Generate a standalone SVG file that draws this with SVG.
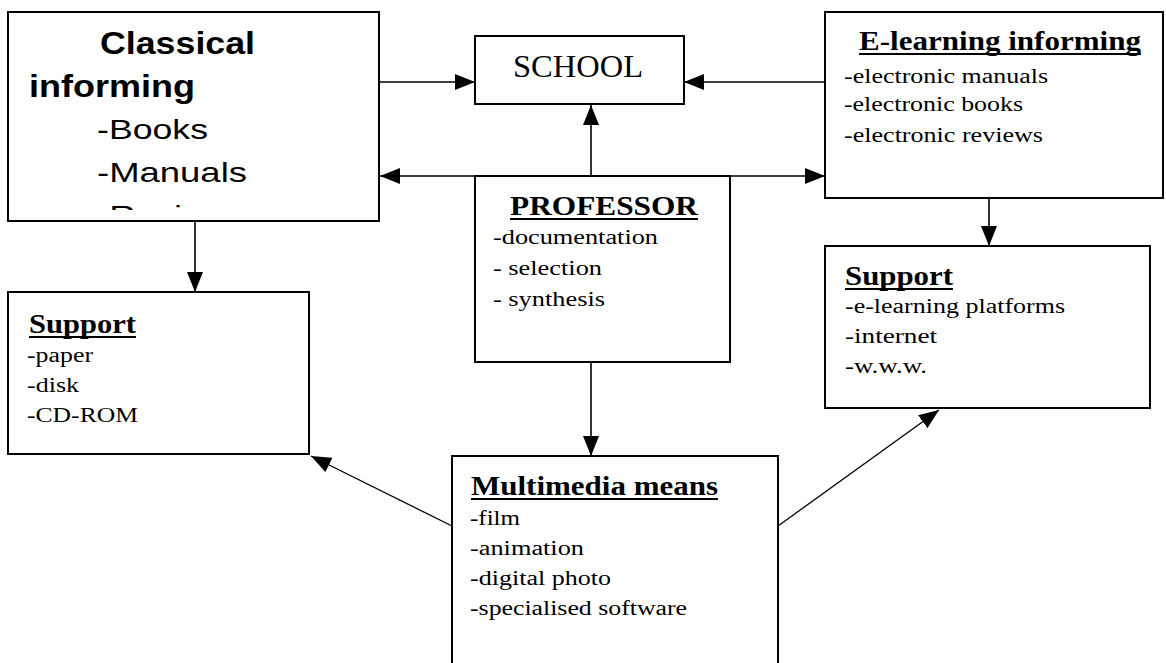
<svg xmlns="http://www.w3.org/2000/svg" width="1166" height="663" viewBox="0 0 1166 663">
<style>
.box{fill:#fff;stroke:#000;stroke-width:2}
.sans{font-family:"Liberation Sans",Arial,sans-serif;fill:#000}
.serif{font-family:"Liberation Serif","Times New Roman",serif;fill:#000}
.title{font-weight:bold;font-size:27px}
.item{font-size:20px}
.ul{stroke:#000;stroke-width:2}
.con{stroke:#000;stroke-width:1.6;fill:none}
.diag{stroke:#000;stroke-width:1.3;fill:none}
</style>
<defs>
<marker id="ah" markerUnits="userSpaceOnUse" markerWidth="20" markerHeight="16" refX="20" refY="8" orient="auto">
<path d="M0,0 L20,8 L0,16 z" fill="#000"/>
</marker>
<clipPath id="clipClassical"><rect x="9" y="13" width="369" height="197"/></clipPath>
</defs>
<rect width="1166" height="663" fill="#fff"/>

<g id="connectors">
<line class="con" x1="379" y1="82" x2="475" y2="82" marker-end="url(#ah)"/>
<line class="con" x1="825" y1="82" x2="684" y2="82" marker-end="url(#ah)"/>
<line class="con" x1="591" y1="176" x2="591" y2="105" marker-end="url(#ah)"/>
<line class="con" x1="591" y1="176" x2="380" y2="176" marker-end="url(#ah)"/>
<line class="con" x1="591" y1="176" x2="825" y2="176" marker-end="url(#ah)"/>
<line class="con" x1="195" y1="221" x2="195" y2="292" marker-end="url(#ah)"/>
<line class="con" x1="989" y1="198" x2="989" y2="246" marker-end="url(#ah)"/>
<line class="con" x1="591" y1="362" x2="591" y2="456" marker-end="url(#ah)"/>
<line class="diag" x1="452" y1="526" x2="311" y2="456" marker-end="url(#ah)"/>
<line class="diag" x1="778" y1="526" x2="939" y2="410" marker-end="url(#ah)"/>
</g>

<g id="classical">
<rect class="box" x="8" y="12" width="371" height="209"/>
<g clip-path="url(#clipClassical)">
<text class="sans" font-weight="bold" font-size="32" x="100" y="54" textLength="155" lengthAdjust="spacingAndGlyphs">Classical</text>
<text class="sans" font-weight="bold" font-size="32" x="29" y="97" textLength="166" lengthAdjust="spacingAndGlyphs">informing</text>
<text class="sans" font-size="28" x="97" y="139" textLength="111" lengthAdjust="spacingAndGlyphs">-Books</text>
<text class="sans" font-size="28" x="97" y="182" textLength="150" lengthAdjust="spacingAndGlyphs">-Manuals</text>
<text class="sans" font-size="28" x="97" y="225" textLength="150" lengthAdjust="spacingAndGlyphs">-Reviews</text>
</g>
</g>

<g id="school">
<rect class="box" x="475" y="36" width="209" height="68"/>
<text class="serif" font-size="31" x="513" y="77" textLength="130" lengthAdjust="spacingAndGlyphs">SCHOOL</text>
</g>

<g id="elearning">
<rect class="box" x="825" y="12" width="338" height="186"/>
<text class="serif title" x="859" y="50" textLength="282" lengthAdjust="spacingAndGlyphs">E-learning informing</text>
<line class="ul" x1="859" y1="54" x2="1141" y2="54"/>
<text class="serif item" x="844" y="83" textLength="204" lengthAdjust="spacingAndGlyphs">-electronic manuals</text>
<text class="serif item" x="844" y="111" textLength="179" lengthAdjust="spacingAndGlyphs">-electronic books</text>
<text class="serif item" x="844" y="142" textLength="199" lengthAdjust="spacingAndGlyphs">-electronic reviews</text>
</g>

<g id="professor">
<rect class="box" x="475" y="176" width="255" height="186"/>
<text class="serif title" x="510" y="215" textLength="188" lengthAdjust="spacingAndGlyphs">PROFESSOR</text>
<line class="ul" x1="510" y1="219" x2="698" y2="219"/>
<text class="serif item" x="493" y="244" textLength="165" lengthAdjust="spacingAndGlyphs">-documentation</text>
<text class="serif item" x="493" y="275" textLength="109" lengthAdjust="spacingAndGlyphs">- selection</text>
<text class="serif item" x="493" y="306" textLength="112" lengthAdjust="spacingAndGlyphs">- synthesis</text>
</g>

<g id="support-left">
<rect class="box" x="8" y="292" width="301" height="162"/>
<text class="serif title" x="29" y="333" textLength="107" lengthAdjust="spacingAndGlyphs">Support</text>
<line class="ul" x1="29" y1="337" x2="136" y2="337"/>
<text class="serif item" x="27" y="362" textLength="66" lengthAdjust="spacingAndGlyphs">-paper</text>
<text class="serif item" x="27" y="392" textLength="52" lengthAdjust="spacingAndGlyphs">-disk</text>
<text class="serif item" x="27" y="422" textLength="111" lengthAdjust="spacingAndGlyphs">-CD-ROM</text>
</g>

<g id="support-right">
<rect class="box" x="825" y="246" width="325" height="162"/>
<text class="serif title" x="845" y="285" textLength="108" lengthAdjust="spacingAndGlyphs">Support</text>
<line class="ul" x1="845" y1="289" x2="953" y2="289"/>
<text class="serif item" x="845" y="313" textLength="220" lengthAdjust="spacingAndGlyphs">-e-learning platforms</text>
<text class="serif item" x="845" y="343" textLength="92" lengthAdjust="spacingAndGlyphs">-internet</text>
<text class="serif item" x="845" y="373" textLength="82" lengthAdjust="spacingAndGlyphs">-w.w.w.</text>
</g>

<g id="multimedia">
<rect class="box" x="452" y="456" width="326" height="230"/>
<text class="serif title" x="471" y="495" textLength="247" lengthAdjust="spacingAndGlyphs">Multimedia means</text>
<line class="ul" x1="471" y1="499" x2="718" y2="499"/>
<text class="serif item" x="470" y="525" textLength="50" lengthAdjust="spacingAndGlyphs">-film</text>
<text class="serif item" x="470" y="555" textLength="114" lengthAdjust="spacingAndGlyphs">-animation</text>
<text class="serif item" x="470" y="585" textLength="141" lengthAdjust="spacingAndGlyphs">-digital photo</text>
<text class="serif item" x="470" y="615" textLength="217" lengthAdjust="spacingAndGlyphs">-specialised software</text>
</g>
</svg>
